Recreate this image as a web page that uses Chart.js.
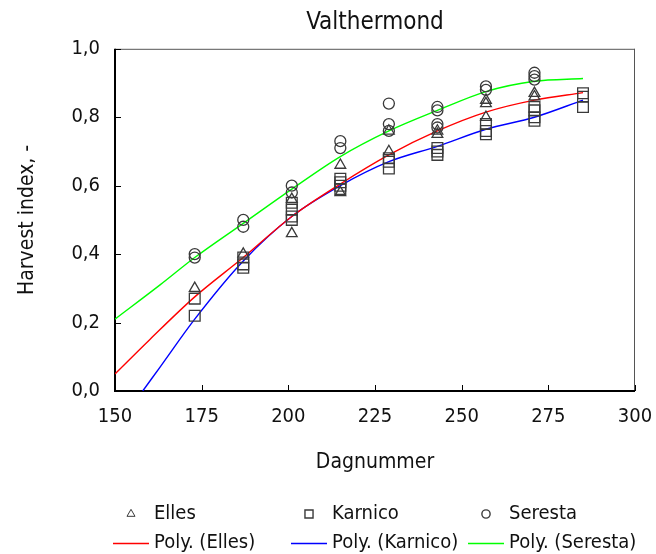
<!DOCTYPE html>
<html lang="nl">
<head>
  <meta charset="UTF-8">
  <title>Valthermond</title>
  <script src="https://cdn.jsdelivr.net/npm/chart.js"></script>
  <style>
    html, body { margin: 0; padding: 0; background: #fff; }
    #wrap { width: 656px; height: 554px; }
  </style>
</head>
<body>
<div id="wrap"><canvas id="hiChart" width="656" height="554"></canvas></div>
<script>
  var ellesDay   = [173, 187, 201, 201, 215, 215, 229, 229, 243, 243, 257, 257, 257, 271, 271];
  var ellesHI    = [0.30, 0.40, 0.56, 0.46, 0.66, 0.58, 0.76, 0.70, 0.76, 0.75, 0.85, 0.84, 0.80, 0.87, 0.86];
  var karnicoDay = [173, 173, 187, 187, 187, 201, 201, 201, 201, 215, 215, 215, 215, 229, 229, 229, 243, 243, 243, 257, 257, 257, 271, 271, 271, 271, 285, 285, 285];
  var karnicoHI  = [0.27, 0.22, 0.39, 0.37, 0.36, 0.55, 0.53, 0.51, 0.50, 0.62, 0.61, 0.60, 0.59, 0.68, 0.67, 0.65, 0.71, 0.70, 0.69, 0.78, 0.76, 0.75, 0.83, 0.82, 0.80, 0.79, 0.87, 0.86, 0.83];
  var serestaDay = [173, 173, 187, 187, 201, 201, 215, 215, 229, 229, 229, 243, 243, 243, 243, 257, 257, 271, 271, 271];
  var serestaHI  = [0.40, 0.39, 0.50, 0.48, 0.60, 0.58, 0.73, 0.71, 0.84, 0.78, 0.76, 0.83, 0.82, 0.78, 0.77, 0.89, 0.88, 0.93, 0.92, 0.91];

  // polynomial trend lines
  var polyEllesDay   = [150, 160, 173, 187, 201, 215, 229, 243, 257, 271, 285];
  var polyEllesHI    = [0.05, 0.15, 0.275, 0.39, 0.51, 0.605, 0.69, 0.76, 0.815, 0.85, 0.872];
  var polyKarnicoDay = [158, 163, 173, 187, 201, 215, 229, 243, 257, 271, 285];
  var polyKarnicoHI  = [0.0, 0.07, 0.21, 0.38, 0.51, 0.60, 0.67, 0.715, 0.765, 0.80, 0.85];
  var polySerestaDay = [150, 163, 173, 187, 201, 215, 229, 243, 257, 271, 285];
  var polySerestaHI  = [0.21, 0.31, 0.39, 0.49, 0.59, 0.685, 0.76, 0.82, 0.875, 0.905, 0.913];

  var xTicks = [150, 175, 200, 225, 250, 275, 300];
  var yTicks = ['0,0', '0,2', '0,4', '0,6', '0,8', '1,0'];

  var FONT = "'DejaVu Sans Condensed', 'Liberation Sans', sans-serif";
  var MARK = '#3a3a3a';

  function pts(xs, ys) {
    return xs.map(function (x, i) { return { x: x, y: ys[i] }; });
  }

  function markers(label, xs, ys, style, r) {
    return {
      type: 'scatter', label: label, data: pts(xs, ys),
      pointStyle: style, pointRadius: r, pointHoverRadius: r,
      borderColor: MARK, backgroundColor: 'rgba(0,0,0,0)', pointBorderWidth: 1.3
    };
  }

  function trend(label, xs, ys, colour) {
    return {
      type: 'line', label: label, data: pts(xs, ys),
      borderColor: colour, borderWidth: 1.4, pointRadius: 0,
      cubicInterpolationMode: 'monotone', fill: false
    };
  }

  // frame + inward tick marks, like the original
  var framePlugin = {
    id: 'frame',
    beforeDatasetsDraw: function (chart) {
      var ctx = chart.ctx, a = chart.chartArea;
      var xs = chart.scales.x, ys = chart.scales.y;
      ctx.save();
      ctx.strokeStyle = '#555';
      ctx.lineWidth = 1;
      ctx.beginPath();
      ctx.moveTo(a.left, a.top + 0.5); ctx.lineTo(a.right, a.top + 0.5);
      ctx.moveTo(a.right - 0.5, a.top); ctx.lineTo(a.right - 0.5, a.bottom);
      ctx.stroke();
      ctx.strokeStyle = '#000';
      ctx.beginPath();
      xTicks.forEach(function (v) {
        var px = Math.round(xs.getPixelForValue(v)) + 0.5;
        ctx.moveTo(px, a.bottom); ctx.lineTo(px, a.bottom - 6);
      });
      yTicks.forEach(function (t, i) {
        var py = Math.round(ys.getPixelForValue(i * 0.2)) + 0.5;
        ctx.moveTo(a.left, py); ctx.lineTo(a.left + 6, py);
      });
      ctx.stroke();
      ctx.lineWidth = 2;
      ctx.beginPath();
      ctx.moveTo(a.left, a.top); ctx.lineTo(a.left, a.bottom); ctx.lineTo(a.right, a.bottom);
      ctx.stroke();
      ctx.restore();
    }
  };

  // two-row legend under the axis title
  var legendPlugin = {
    id: 'hiLegend',
    afterDraw: function (chart) {
      var ctx = chart.ctx, ds = chart.data.datasets;
      var colLeft = [113, 291, 468];
      var rowY = [514, 543];
      ctx.save();
      ctx.font = '20px ' + FONT;
      ctx.textBaseline = 'middle';
      for (var i = 0; i < 3; i++) {
        var m = ds[i], l = ds[i + 3], x0 = colLeft[i];
        ctx.strokeStyle = MARK;
        ctx.fillStyle = 'rgba(0,0,0,0)';
        Chart.helpers.drawPoint(ctx, { pointStyle: m.pointStyle, radius: m.pointRadius * 0.75, borderWidth: 1.2, rotation: 0 }, x0 + 18, rowY[0]);
        ctx.fillStyle = '#111';
        ctx.fillText(m.label, x0 + 41, rowY[0]);
        ctx.strokeStyle = l.borderColor;
        ctx.lineWidth = 1.4;
        ctx.beginPath();
        ctx.moveTo(x0, rowY[1] + 0.5); ctx.lineTo(x0 + 36, rowY[1] + 0.5);
        ctx.stroke();
        ctx.fillText(l.label, x0 + 41, rowY[1]);
      }
      ctx.restore();
    }
  };

  new Chart(document.getElementById('hiChart').getContext('2d'), {
    data: {
      datasets: [
        markers('Elles', ellesDay, ellesHI, 'triangle', 6.2),
        markers('Karnico', karnicoDay, karnicoHI, 'rect', 7.6),
        markers('Seresta', serestaDay, serestaHI, 'circle', 5.5),
        trend('Poly. (Elles)', polyEllesDay, polyEllesHI, '#ff0000'),
        trend('Poly. (Karnico)', polyKarnicoDay, polyKarnicoHI, '#0000ff'),
        trend('Poly. (Seresta)', polySerestaDay, polySerestaHI, '#00ff00')
      ]
    },
    options: {
      responsive: false,
      animation: false,
      events: [],
      layout: { padding: { left: 0, right: 21, top: 0, bottom: 79 } },
      plugins: {
        legend: { display: false },
        tooltip: { enabled: false },
        title: {
          display: true, text: 'Valthermond', color: '#111', fullSize: false,
          font: { family: FONT, size: 24, weight: 'normal' },
          padding: { top: 8, bottom: 12 }
        }
      },
      scales: {
        x: {
          type: 'linear', min: 150, max: 300,
          afterBuildTicks: function (s) { s.ticks = xTicks.map(function (v) { return { value: v }; }); },
          afterFit: function (s) { s.height = 84; s.paddingRight = 0; s.paddingLeft = 0; },
          grid: { display: false, drawTicks: false },
          border: { display: false },
          ticks: { color: '#111', padding: 14, maxRotation: 0, font: { family: FONT, size: 20 } },
          title: { display: true, text: 'Dagnummer', color: '#111', padding: 0, font: { family: FONT, size: 21 } }
        },
        y: {
          type: 'linear', min: 0, max: 1,
          afterBuildTicks: function (s) { s.ticks = yTicks.map(function (t, i) { return { value: i * 0.2 }; }); },
          afterFit: function (s) { s.width = 115; },
          grid: { display: false, drawTicks: false },
          border: { display: false },
          ticks: {
            color: '#111', padding: 15, font: { family: FONT, size: 20 },
            callback: function (v, i) { return yTicks[i]; }
          },
          title: { display: true, text: 'Harvest index, -', color: '#111', padding: { top: 15 }, font: { family: FONT, size: 21 } }
        }
      }
    },
    plugins: [framePlugin, legendPlugin]
  });
</script>
</body>
</html>
